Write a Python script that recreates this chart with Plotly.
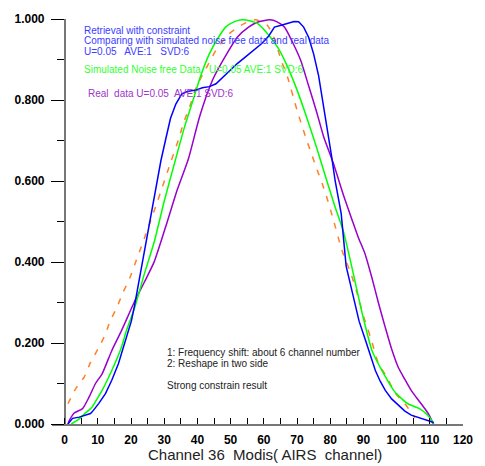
import plotly.graph_objects as go

# ---------------- data ----------------
blue_x = [1, 2.4, 4.4, 6.4, 7.8, 8.3, 10.3, 12.3, 14.2, 16.2, 17.6, 19.1, 20.1, 21, 22, 24, 26, 28, 29,
          30.5, 31.9, 33.5, 35.3, 37, 39.7, 41.5, 43.6, 45.6, 47.5, 49.5, 52, 54.4, 56.5, 59.3, 61.5,
          63.2, 65.5, 67.5, 69.1, 70.5, 72, 73.5, 75, 76.5, 77.9, 79.2, 80.4, 81.5, 83.3, 84.8, 86.8,
          88.7, 90.7, 92.2, 93.6, 95.1, 96.6, 98.5, 100.5, 102.5, 104.4, 106, 107.4, 109, 110.3, 111.2]
blue_y = [0.0, 0.014, 0.017, 0.022, 0.026, 0.03, 0.051, 0.075, 0.108, 0.149, 0.189, 0.23, 0.254, 0.29,
          0.335, 0.425, 0.515, 0.605, 0.65, 0.705, 0.755, 0.79, 0.815, 0.821, 0.825, 0.83, 0.833, 0.84,
          0.855, 0.87, 0.89, 0.906, 0.92, 0.939, 0.958, 0.98, 0.985, 0.99, 0.994, 0.993, 0.98, 0.955,
          0.914, 0.86, 0.792, 0.73, 0.662, 0.6, 0.52, 0.39, 0.32, 0.254, 0.205, 0.165, 0.132, 0.105,
          0.083, 0.062, 0.046, 0.032, 0.022, 0.018, 0.014, 0.011, 0.006, 0.003]

green_x = [2, 4, 6, 8.3, 10, 11.3, 14.2, 17.1, 18.6, 21.1, 24, 27, 30, 33.3, 36, 38.7, 41, 43.6, 46,
           48.5, 51, 53.4, 56, 58.3, 61, 64.2, 67, 70, 73, 76, 79, 81.5, 84, 86.8, 89.7, 92.6, 95.6,
           99.5, 103.4, 106.9, 109.3, 110.8, 111.2]
green_y = [0.0, 0.01, 0.025, 0.042, 0.065, 0.083, 0.132, 0.189, 0.23, 0.287, 0.37, 0.45, 0.55, 0.65,
           0.73, 0.8, 0.86, 0.914, 0.95, 0.98, 0.993, 0.998, 0.995, 0.988, 0.965, 0.93, 0.885, 0.825,
           0.755, 0.68, 0.6, 0.535, 0.475, 0.377, 0.271, 0.181, 0.132, 0.079, 0.05, 0.038, 0.022,
           0.006, 0.0]

purple_x = [1, 1.5, 2.9, 5.4, 7.4, 9.3, 11.3, 14.2, 17.1, 21.1, 24, 27, 30.9, 34, 37.3, 40.7, 44.6,
            49.5, 52, 55.4, 58, 61.8, 64, 66.2, 68.5, 71.1, 73.5, 76, 78, 80.9, 84, 86.8, 88.5, 90.5,
            92.6, 94.5, 96.6, 98.5, 100.5, 102.5, 104.4, 106, 107.4, 109, 109.8, 111.1]
purple_y = [0.0, 0.01, 0.027, 0.038, 0.067, 0.1, 0.124, 0.181, 0.23, 0.303, 0.35, 0.401, 0.499, 0.58,
            0.655, 0.76, 0.85, 0.923, 0.955, 0.98, 0.992, 0.998, 0.993, 0.98, 0.945, 0.898, 0.835,
            0.768, 0.71, 0.645, 0.565, 0.499, 0.46, 0.42, 0.36, 0.3, 0.238, 0.185, 0.14, 0.11, 0.083,
            0.065, 0.05, 0.032, 0.022, 0.0]

orange_x = [1, 3.4, 5.9, 7.8, 10.3, 12.3, 13.7, 15.7, 17.6, 19.6, 21.1, 24, 27.9, 31.9, 34.3, 35.8,
            37.7, 39.7, 42.6, 45.6, 49.5, 53.9, 57.5, 61, 63, 65.3, 67.1, 70, 72.5, 75.3, 78.5, 80.9,
            83.5, 86.3, 88.2, 90.2, 92.2, 94.6, 97.1, 99.4, 102.5, 104.9, 105.5]
orange_y = [0.05, 0.088, 0.116, 0.152, 0.189, 0.222, 0.254, 0.287, 0.325, 0.36, 0.393, 0.458, 0.548,
            0.645, 0.702, 0.743, 0.784, 0.833, 0.878, 0.923, 0.963, 0.988, 0.998, 0.985, 0.955, 0.897,
            0.858, 0.775, 0.711, 0.645, 0.572, 0.506, 0.43, 0.37, 0.32, 0.262, 0.213, 0.148, 0.116,
            0.078, 0.05, 0.022, 0.015]

x_tickvals = [0, 10, 20, 30, 40, 50, 60, 70, 80, 90, 100, 110, 120]
y_tickvals = [0.0, 0.2, 0.4, 0.6, 0.8, 1.0]

FONT = "Arial, Liberation Sans, sans-serif"

fig = go.Figure()
fig.add_trace(go.Scatter(x=orange_x, y=orange_y, mode="lines",
                         line=dict(color="#FF7F27", width=1.5, dash="6px,8px", shape="spline", smoothing=0.6)))
fig.add_trace(go.Scatter(x=purple_x, y=purple_y, mode="lines",
                         line=dict(color="#9900CC", width=1.5, shape="spline", smoothing=0.6)))
fig.add_trace(go.Scatter(x=green_x, y=green_y, mode="lines",
                         line=dict(color="#00FF00", width=1.5, shape="spline", smoothing=0.6)))
fig.add_trace(go.Scatter(x=blue_x, y=blue_y, mode="lines",
                         line=dict(color="#0000FF", width=1.5)))

def ann(text, x, y, color):
    fig.add_annotation(text=text, x=x, y=y, xref="x", yref="y", xanchor="left", yanchor="middle",
                       showarrow=False, font=dict(family=FONT, size=10, color=color))

ann("Retrieval with constraint", 5.3, 0.971, "#3C3CFF")
ann("Comparing with simulated noise free data and real data", 5.3, 0.946, "#3C3CFF")
ann("U=0.05   AVE:1   SVD:6", 5.3, 0.919, "#3C3CFF")
ann("Simulated Noise free Data   U=0.05 AVE:1 SVD:6", 5.3, 0.875, "#33FF33")
ann("Real  data U=0.05  AVE:1 SVD:6", 6.5, 0.817, "#A033CC")
ann("1: Frequency shift: about 6 channel number", 30.3, 0.176, "#222222")
ann("2: Reshape in two side", 30.3, 0.149, "#222222")
ann("Strong constrain result", 30.3, 0.095, "#222222")

# x-axis title placed as an annotation (offset to the right as in the reference)
fig.add_annotation(text="Channel 36  Modis( AIRS  channel)", x=(270 - 52) / 421, y=-31 / 409,
                   xref="paper", yref="paper", xanchor="center", yanchor="middle", showarrow=False,
                   font=dict(family=FONT, size=15, color="#222222"))

fig.update_layout(
    width=485, height=466,
    margin=dict(l=52, r=12, t=15, b=42),
    paper_bgcolor="white", plot_bgcolor="white",
    showlegend=False,
    xaxis=dict(range=[-3.8, 120], tickvals=x_tickvals, ticks="inside", ticklen=6,
               tickcolor="black", tickwidth=1, showline=True, linecolor="#777777", linewidth=1.5,
               showgrid=False, zeroline=False, ticklabelstandoff=4,
               minor=dict(dtick=5, tick0=0, ticks="inside", ticklen=6, tickcolor="black", showgrid=False),
               tickfont=dict(family=FONT, size=12, color="black", weight="bold")),
    yaxis=dict(range=[0, 1.0], tickvals=y_tickvals, tickformat=".3f", ticks="outside", ticklen=13,
               tickcolor="black", tickwidth=1, showline=True, linecolor="#777777", linewidth=1.5,
               showgrid=False, zeroline=False, anchor="free", position=13 / 421, ticklabelstandoff=4,
               minor=dict(dtick=0.1, tick0=0, ticks="outside", ticklen=7, tickcolor="black", showgrid=False),
               tickfont=dict(family=FONT, size=12, color="black", weight="bold")),
)

fig.write_html("out.html")
